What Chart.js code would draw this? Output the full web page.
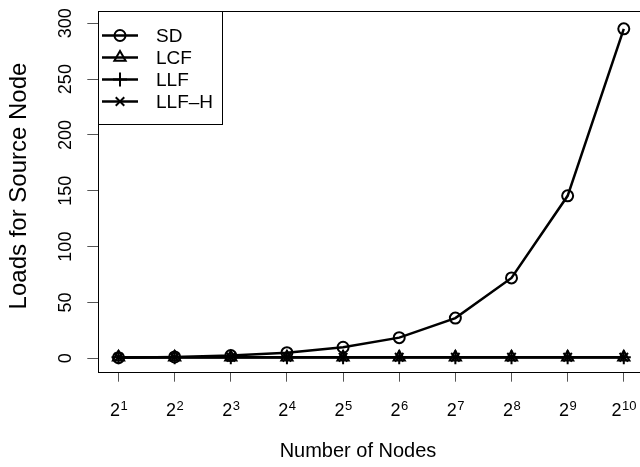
<!DOCTYPE html>
<html>
<head>
<meta charset="utf-8">
<script src="https://cdn.jsdelivr.net/npm/chart.js@4/dist/chart.umd.min.js"></script>
<style>
  html, body { margin: 0; padding: 0; background: #fff; overflow: hidden; }
  #wrap { width: 640px; height: 467px; overflow: hidden; }
  canvas { display: block; }
</style>
</head>
<body>
<div id="wrap"><canvas id="c" width="644" height="467" style="width:644px;height:467px"></canvas></div>
<script>
// ---- data ----
const exponents = [1, 2, 3, 4, 5, 6, 7, 8, 9, 10];          // x = 2^exponent
const xTickLabels = ['1', '2', '3', '4', '5', '6', '7', '8', '9', '10'];
const yTicks = [0, 50, 100, 150, 200, 250, 300];
const seriesNames = ['SD', 'LCF', 'LLF', 'LLF\u2013H'];
const sdLoads   = [0.6, 1.2, 2.4, 5, 9.9, 18.5, 36, 72, 145.5, 295];
const lcfLoads  = [1, 1, 1, 1, 1, 1, 1, 1, 1, 1];
const llfLoads  = [1, 1, 1, 1, 1, 1, 1, 1, 1, 1];
const llfhLoads = [1, 1, 1, 1, 1, 1, 1, 1, 1, 1];
const xTitle = 'Number of Nodes';
const yTitle = 'Loads for Source Node';

const FONT = '"Liberation Sans", Arial, Helvetica, sans-serif';
const pts = arr => arr.map((v, i) => ({ x: exponents[i], y: v }));

const styles = [
  { pointStyle: 'circle',   pointRadius: 5.5 },
  { pointStyle: 'triangle', pointRadius: 6.5 },
  { pointStyle: 'cross',    pointRadius: 7 },
  { pointStyle: 'crossRot', pointRadius: 6 }
];
const values = [sdLoads, lcfLoads, llfLoads, llfhLoads];

const datasets = values.map((vals, i) => ({
  label: seriesNames[i],
  data: pts(vals),
  borderColor: '#000',
  borderWidth: 2.5,
  backgroundColor: 'rgba(0,0,0,0)',
  pointStyle: styles[i].pointStyle,
  pointRadius: styles[i].pointRadius,
  pointBorderWidth: 2,
  pointBorderColor: '#000',
  pointBackgroundColor: 'rgba(0,0,0,0)',
  tension: 0,
  clip: false
}));

const decor = {
  id: 'decor',
  afterDraw(chart) {
    const ctx = chart.ctx;
    const a = chart.chartArea;
    const xs = chart.scales.x, ys = chart.scales.y;
    ctx.save();
    // box
    ctx.strokeStyle = '#000';
    ctx.lineWidth = 1;
    ctx.strokeRect(Math.round(a.left) + 0.5, Math.round(a.top) + 0.5,
                   Math.round(a.right - a.left), Math.round(a.bottom - a.top));
    // x tick labels 2^n
    ctx.fillStyle = '#000';
    ctx.textBaseline = 'alphabetic';
    exponents.forEach((e, i) => {
      const px = xs.getPixelForValue(e);
      ctx.font = '18px ' + FONT;
      const wb = ctx.measureText('2').width;
      ctx.font = '13px ' + FONT;
      const we = ctx.measureText(xTickLabels[i]).width;
      const start = px - (wb + we) / 2;
      ctx.textAlign = 'left';
      ctx.font = '18px ' + FONT;
      ctx.fillText('2', start, 416);
      ctx.font = '13px ' + FONT;
      ctx.fillText(xTickLabels[i], start + wb + 0.5, 410);
    });
    // y tick labels (rotated)
    ctx.font = '18px ' + FONT;
    ctx.textAlign = 'center';
    yTicks.forEach(v => {
      const py = ys.getPixelForValue(v);
      ctx.save();
      ctx.translate(70.5, py);
      ctx.rotate(-Math.PI / 2);
      ctx.fillText(String(v), 0, 0);
      ctx.restore();
    });
    // axis titles
    ctx.font = '20px ' + FONT;
    ctx.textAlign = 'center';
    ctx.fillText(xTitle, 358, 457);
    ctx.font = '24px ' + FONT;
    ctx.save();
    ctx.translate(25.5, 186);
    ctx.rotate(-Math.PI / 2);
    ctx.fillText(yTitle, 0, 0);
    ctx.restore();
    // legend
    const lx = Math.round(a.left) + 0.5, ly = Math.round(a.top) + 0.5;
    ctx.fillStyle = '#fff';
    ctx.fillRect(lx, ly, 124, 113);
    ctx.strokeStyle = '#000';
    ctx.lineWidth = 1;
    ctx.strokeRect(lx, ly, 124, 113);
    chart.data.datasets.forEach((ds, i) => {
      const y = 35.5 + i * 22;
      ctx.strokeStyle = '#000';
      ctx.lineWidth = 2.5;
      ctx.beginPath();
      ctx.moveTo(102, y);
      ctx.lineTo(138, y);
      ctx.stroke();
      ctx.lineWidth = 2;
      ctx.fillStyle = 'rgba(0,0,0,0)';
      Chart.helpers.drawPoint(ctx, {
        pointStyle: ds.pointStyle, radius: ds.pointRadius, rotation: 0, borderWidth: 2
      }, 120, y);
      ctx.fillStyle = '#000';
      ctx.font = '19px ' + FONT;
      ctx.textAlign = 'left';
      ctx.textBaseline = 'middle';
      ctx.fillText(ds.label, 156, y + 1);
    });
    ctx.restore();
  }
};

new Chart(document.getElementById('c'), {
  type: 'line',
  data: { datasets },
  options: {
    responsive: false,
    animation: false,
    devicePixelRatio: 1,
    layout: { autoPadding: false, padding: { left: 0, top: 11, right: 0, bottom: 0 } },
    plugins: { legend: { display: false }, tooltip: { enabled: false } },
    scales: {
      x: {
        type: 'linear',
        min: 0.64, max: 10.36,
        afterBuildTicks: s => { s.ticks = exponents.map(v => ({ value: v })); },
        afterFit: s => { s.height = 95.3; },
        grid: { drawOnChartArea: false, drawTicks: true, tickLength: 10, color: '#555', lineWidth: 1 },
        border: { display: false },
        ticks: { display: false }
      },
      y: {
        type: 'linear',
        min: -12, max: 311,
        afterBuildTicks: s => { s.ticks = yTicks.map(v => ({ value: v })); },
        afterFit: s => { s.width = 98.3; },
        grid: { drawOnChartArea: false, drawTicks: true, tickLength: 11, color: '#555', lineWidth: 1 },
        border: { display: false },
        ticks: { display: false }
      }
    }
  },
  plugins: [decor]
});
</script>
</body>
</html>
